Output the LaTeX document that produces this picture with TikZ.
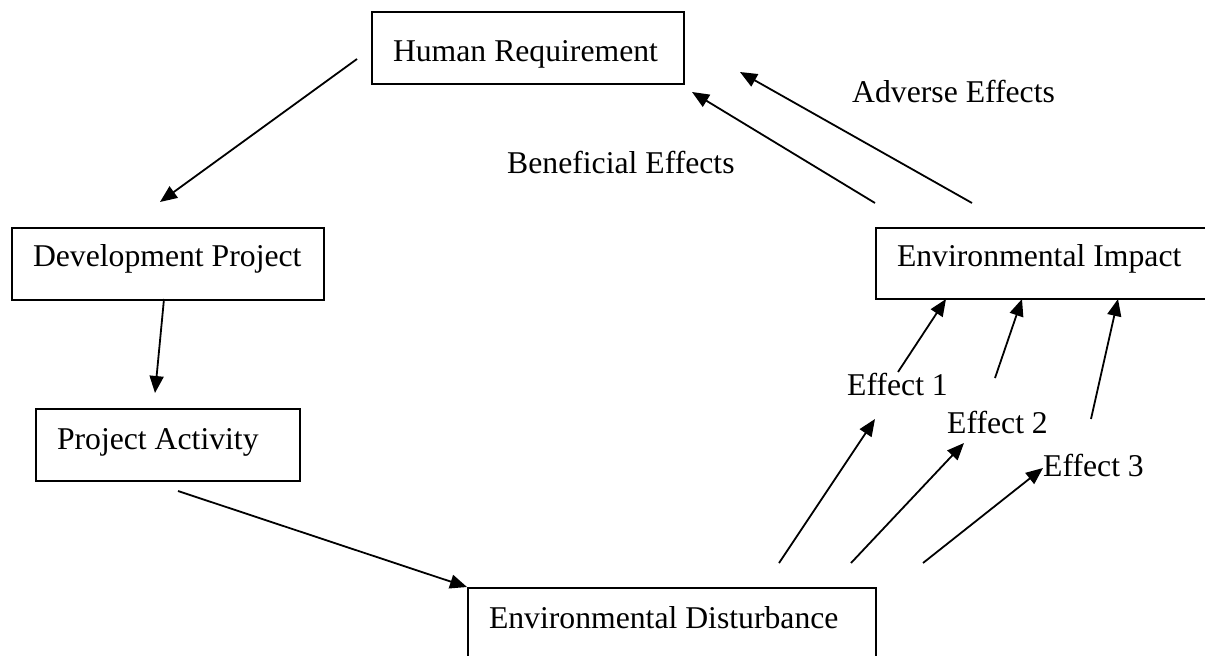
\documentclass[tikz,border=0pt]{standalone}
\usepackage{fontspec}
\setmainfont{Liberation Serif}
\usetikzlibrary{arrows.meta}

\begin{document}
\begin{tikzpicture}[x=1pt,y=-1pt,
  box/.style={draw, line width=2pt, anchor=north west, align=flush left, inner xsep=21pt, inner ysep=0pt, font=\fontsize{31.7}{38}\selectfont},
  lbl/.style={anchor=base west, inner sep=0pt, font=\fontsize{31.7}{38}\selectfont},
  arr/.style={line width=1.8pt, -{Triangle[length=17pt,width=14pt]}}]

\useasboundingbox (0,0) rectangle (1205,656);

\clip (0,0) rectangle (1205,656);

\node[box, text width=270pt, text height=49pt, text depth=23pt] (hr) at (371,11) {\mbox{Human Requirement}};

\node[box, text width=270pt, text height=38pt, text depth=34pt] (dev) at (11,227) {\mbox{Development Project}};

\node[box, text width=222pt, text height=40pt, text depth=32pt] (act) at (35,408) {\mbox{Project Activity}};

\node[box, text width=366pt, text height=40pt, text depth=40pt] (dist) at (467,587) {\mbox{Environmental Disturbance}};

\node[box, text width=300pt, text height=38pt, text depth=33pt] (imp) at (875,227) {\mbox{Environmental Impact}};

\coordinate (hrout) at (357,59);
\coordinate (devin) at (160,202);
\coordinate (devout) at (164,299);
\coordinate (actin) at (155,393);
\coordinate (actout) at (178,491);

\coordinate (benout) at (875,203);
\coordinate (benin) at (692,92);
\coordinate (advout) at (972,203);
\coordinate (advin) at (740,72);

\coordinate (eoneout) at (898,372);
\coordinate (eonein) at (946,299);
\coordinate (etwoout) at (995,378);
\coordinate (etwoin) at (1022,299);
\coordinate (ethreeout) at (1091,419);
\coordinate (ethreein) at (1118,299);

\coordinate (done) at (779,563);
\coordinate (doneend) at (875,419);
\coordinate (dtwo) at (851,563);
\coordinate (dtwoend) at (964,443);
\coordinate (dthree) at (923,563);
\coordinate (dthreeend) at (1043,468);

\draw[arr] (hrout) -- (devin);

\draw[arr] (devout) -- (actin);

\draw[arr] (actout) -- (dist.north west);

\draw[arr] (benout) -- (benin);

\draw[arr] (advout) -- (advin);

\draw[arr] (eoneout) -- (eonein);

\draw[arr] (etwoout) -- (etwoin);

\draw[arr] (ethreeout) -- (ethreein);

\draw[arr] (done) -- (doneend);

\draw[arr] (dtwo) -- (dtwoend);

\draw[arr] (dthree) -- (dthreeend);

\node[lbl] (ben) at (507,173) {Beneficial Effects};

\node[lbl] (adv) at (852,102) {Adverse Effects};

\node[lbl] (eone) at (847,395) {Effect 1};

\node[lbl] (etwo) at (947,433) {Effect 2};

\node[lbl] (ethree) at (1043,476) {Effect 3};

\end{tikzpicture}
\end{document}
